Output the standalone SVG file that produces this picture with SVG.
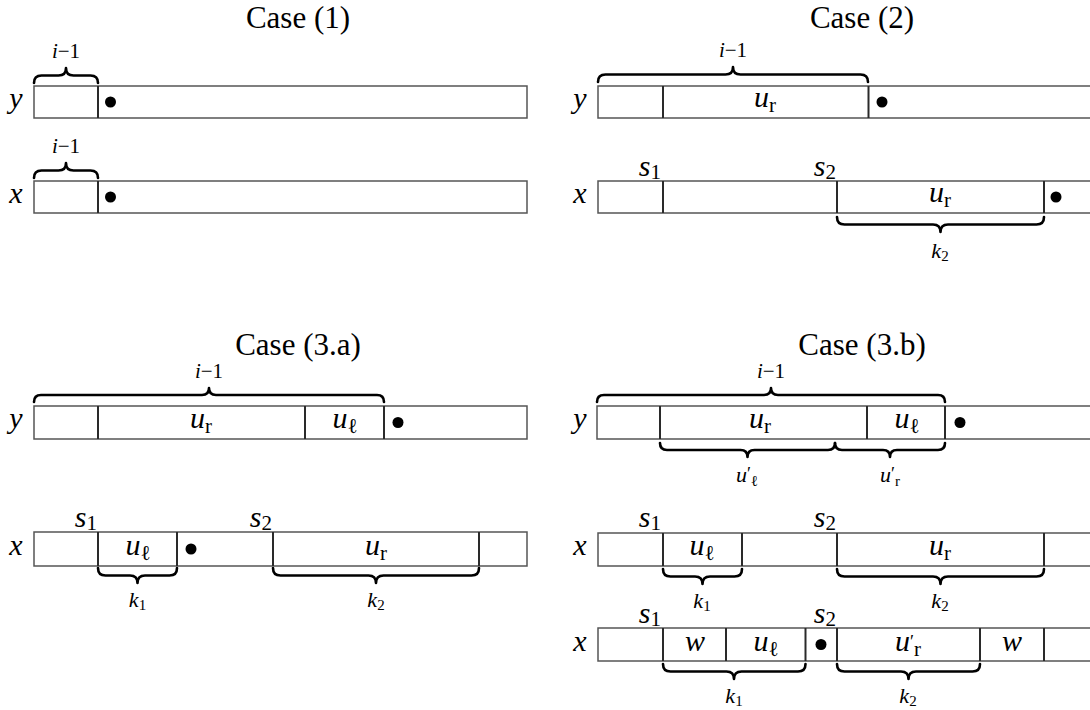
<svg xmlns="http://www.w3.org/2000/svg" width="1090" height="710" viewBox="0 0 1090 710" font-family="'Liberation Serif', 'Times New Roman', serif">
<style>
.box{fill:#fff;stroke:#555;stroke-width:1.5}
.dv{stroke:#2a2a2a;stroke-width:2}
.dot{fill:#000}
.br{fill:none;stroke:#000;stroke-width:2.6;stroke-linejoin:round;stroke-linecap:round}
text{font-family:'Liberation Serif','Times New Roman',serif;fill:#000}
.title{font-size:31px;text-anchor:middle}
.m{font-style:italic;font-size:30px;text-anchor:middle}
.s{font-style:italic;font-size:30px;text-anchor:end}
.sub{font-style:normal;font-size:21px}
.sm{font-style:italic;font-size:22px;text-anchor:middle}
.ss{font-style:normal;font-size:15px}
.pr{font-style:normal;font-size:18px}
.lab{font-style:italic;font-size:30px;text-anchor:middle}
.il{font-style:italic;font-size:21px;text-anchor:middle}
</style>

<!-- Case 1 -->
<g id="case1">
<text class="title" x="298" y="28">Case (1)</text>
<g id="c1-y">
<text class="lab" x="16" y="108">y</text>
<rect class="box" x="34" y="86" width="493" height="32"/>
<line class="dv" x1="98" y1="86" x2="98" y2="118"/>
<circle class="dot" cx="110.5" cy="102" r="5.5"/>
</g>
<g id="c1-x">
<text class="lab" x="16" y="203">x</text>
<rect class="box" x="34" y="181" width="493" height="32"/>
<line class="dv" x1="98" y1="181" x2="98" y2="213"/>
<circle class="dot" cx="110.5" cy="197" r="5.5"/>
</g>
<text class="il" x="66" y="58">i<tspan font-style="normal">−1</tspan></text>
<text class="il" x="66" y="153">i<tspan font-style="normal">−1</tspan></text>
</g>

<!-- Case 2 -->
<g id="case2">
<text class="title" x="862" y="28">Case (2)</text>
<g id="c2-y">
<text class="lab" x="580" y="108">y</text>
<rect class="box" x="598" y="86" width="500" height="32"/>
<line class="dv" x1="663" y1="86" x2="663" y2="118"/>
<line class="dv" x1="868.5" y1="86" x2="868.5" y2="118"/>
<text class="m" x="765" y="107">u<tspan class="sub" dy="5">r</tspan></text>
<circle class="dot" cx="882" cy="102" r="5.5"/>
</g>
<text class="il" x="733" y="57">i<tspan font-style="normal">−1</tspan></text>
<g id="c2-x">
<text class="lab" x="580" y="203">x</text>
<rect class="box" x="598" y="181" width="500" height="32"/>
<line class="dv" x1="663" y1="181" x2="663" y2="213"/>
<line class="dv" x1="837" y1="181" x2="837" y2="213"/>
<line class="dv" x1="1044" y1="181" x2="1044" y2="213"/>
<text class="s" x="661" y="176">s<tspan class="sub" dy="3">1</tspan></text>
<text class="s" x="836" y="176">s<tspan class="sub" dy="3">2</tspan></text>
<text class="m" x="940" y="202">u<tspan class="sub" dy="5">r</tspan></text>
<circle class="dot" cx="1056" cy="197" r="5.5"/>
</g>
<text class="sm" x="940" y="258">k<tspan class="ss" dy="3">2</tspan></text>
</g>

<!-- Case 3.a -->
<g id="case3a">
<text class="title" x="298" y="355">Case (3.a)</text>
<g id="c3a-y">
<text class="lab" x="16" y="428">y</text>
<rect class="box" x="34" y="406" width="493" height="33"/>
<line class="dv" x1="98" y1="406" x2="98" y2="439"/>
<line class="dv" x1="305" y1="406" x2="305" y2="439"/>
<line class="dv" x1="384" y1="406" x2="384" y2="439"/>
<text class="m" x="201" y="428">u<tspan class="sub" dy="5">r</tspan></text>
<text class="m" x="345" y="428">u<tspan class="sub" dy="5">ℓ</tspan></text>
<circle class="dot" cx="398" cy="422.5" r="5.5"/>
</g>
<text class="il" x="209" y="378">i<tspan font-style="normal">−1</tspan></text>
<g id="c3a-x">
<text class="lab" x="16" y="555">x</text>
<rect class="box" x="34" y="532" width="493" height="34"/>
<line class="dv" x1="98" y1="532" x2="98" y2="566"/>
<line class="dv" x1="177" y1="532" x2="177" y2="566"/>
<line class="dv" x1="273" y1="532" x2="273" y2="566"/>
<line class="dv" x1="479" y1="532" x2="479" y2="566"/>
<text class="s" x="97" y="527">s<tspan class="sub" dy="3">1</tspan></text>
<text class="s" x="272" y="527">s<tspan class="sub" dy="3">2</tspan></text>
<text class="m" x="138" y="555">u<tspan class="sub" dy="5">ℓ</tspan></text>
<circle class="dot" cx="191" cy="549" r="5.5"/>
<text class="m" x="376" y="555">u<tspan class="sub" dy="5">r</tspan></text>
</g>
<text class="sm" x="137.5" y="607">k<tspan class="ss" dy="3">1</tspan></text>
<text class="sm" x="376" y="607">k<tspan class="ss" dy="3">2</tspan></text>
</g>

<!-- Case 3.b -->
<g id="case3b">
<text class="title" x="862" y="355">Case (3.b)</text>
<g id="c3b-y">
<text class="lab" x="580" y="428">y</text>
<rect class="box" x="597" y="406" width="500" height="33"/>
<line class="dv" x1="660" y1="406" x2="660" y2="439"/>
<line class="dv" x1="867" y1="406" x2="867" y2="439"/>
<line class="dv" x1="945" y1="406" x2="945" y2="439"/>
<text class="m" x="760" y="428">u<tspan class="sub" dy="5">r</tspan></text>
<text class="m" x="907" y="428">u<tspan class="sub" dy="5">ℓ</tspan></text>
<circle class="dot" cx="960" cy="422.5" r="5.5"/>
</g>
<text class="il" x="771" y="378">i<tspan font-style="normal">−1</tspan></text>
<text class="sm" x="747" y="482">u<tspan class="pr" dy="-2">′</tspan><tspan class="ss" dy="6">ℓ</tspan></text>
<text class="sm" x="890" y="482">u<tspan class="pr" dy="-2">′</tspan><tspan class="ss" dy="6">r</tspan></text>
<g id="c3b-x1">
<text class="lab" x="580" y="555">x</text>
<rect class="box" x="598" y="533" width="500" height="33"/>
<line class="dv" x1="663" y1="533" x2="663" y2="566"/>
<line class="dv" x1="742" y1="533" x2="742" y2="566"/>
<line class="dv" x1="837" y1="533" x2="837" y2="566"/>
<line class="dv" x1="1044" y1="533" x2="1044" y2="566"/>
<text class="s" x="661" y="527">s<tspan class="sub" dy="3">1</tspan></text>
<text class="s" x="836" y="527">s<tspan class="sub" dy="3">2</tspan></text>
<text class="m" x="702" y="555">u<tspan class="sub" dy="5">ℓ</tspan></text>
<text class="m" x="940" y="555">u<tspan class="sub" dy="5">r</tspan></text>
</g>
<text class="sm" x="702" y="608">k<tspan class="ss" dy="3">1</tspan></text>
<text class="sm" x="940" y="608">k<tspan class="ss" dy="3">2</tspan></text>
<g id="c3b-x2">
<text class="lab" x="580" y="651">x</text>
<rect class="box" x="598" y="628" width="500" height="33"/>
<line class="dv" x1="663" y1="628" x2="663" y2="661"/>
<line class="dv" x1="726" y1="628" x2="726" y2="661"/>
<line class="dv" x1="805.5" y1="628" x2="805.5" y2="661"/>
<line class="dv" x1="837" y1="628" x2="837" y2="661"/>
<line class="dv" x1="980" y1="628" x2="980" y2="661"/>
<line class="dv" x1="1044" y1="628" x2="1044" y2="661"/>
<text class="s" x="661" y="623">s<tspan class="sub" dy="3">1</tspan></text>
<text class="s" x="836" y="623">s<tspan class="sub" dy="3">2</tspan></text>
<text class="m" x="695" y="651">w</text>
<text class="m" x="766" y="651">u<tspan class="sub" dy="5">ℓ</tspan></text>
<circle class="dot" cx="821" cy="644.5" r="5.5"/>
<text class="m" x="908" y="651">u<tspan class="pr" font-size="22px" dy="-3">′</tspan><tspan class="sub" dy="8">r</tspan></text>
<text class="m" x="1012" y="651">w</text>
</g>
<text class="sm" x="734" y="703">k<tspan class="ss" dy="3">1</tspan></text>
<text class="sm" x="908" y="703">k<tspan class="ss" dy="3">2</tspan></text>
</g>

<!-- Braces (connectors) -->
<g id="braces">
<path class="br" d="M34,83 Q34,75.5 41.5,75.5 L58.5,75.5 Q66,75.5 66,68 Q66,75.5 73.5,75.5 L90.5,75.5 Q98,75.5 98,83"/>
<path class="br" d="M34,178 Q34,170.5 41.5,170.5 L58.5,170.5 Q66,170.5 66,163 Q66,170.5 73.5,170.5 L90.5,170.5 Q98,170.5 98,178"/>
<path class="br" d="M598,82 Q598,74.5 605.5,74.5 L725.5,74.5 Q733,74.5 733,67 Q733,74.5 740.5,74.5 L860.5,74.5 Q868,74.5 868,82"/>
<path class="br" d="M837,217 Q837,224.5 844.5,224.5 L933,224.5 Q940.5,224.5 940.5,232 Q940.5,224.5 948,224.5 L1036.5,224.5 Q1044,224.5 1044,217"/>
<path class="br" d="M34,402 Q34,395 41,395 L202,395 Q209,395 209,388 Q209,395 216,395 L377,395 Q384,395 384,402"/>
<path class="br" d="M98,568 Q98,575.5 105.5,575.5 L130,575.5 Q137.5,575.5 137.5,583 Q137.5,575.5 145,575.5 L169.5,575.5 Q177,575.5 177,568"/>
<path class="br" d="M273,568 Q273,575.5 280.5,575.5 L368.5,575.5 Q376,575.5 376,583 Q376,575.5 383.5,575.5 L471.5,575.5 Q479,575.5 479,568"/>
<path class="br" d="M597,402 Q597,395 604,395 L764,395 Q771,395 771,388 Q771,395 778,395 L938,395 Q945,395 945,402"/>
<path class="br" d="M660,443 Q660,450 667,450 L740.5,450 Q747.5,450 747.5,457 Q747.5,450 754.5,450 L828,450 Q835,450 835,443"/>
<path class="br" d="M835,443 Q835,450 842,450 L883,450 Q890,450 890,457 Q890,450 897,450 L938,450 Q945,450 945,443"/>
<path class="br" d="M663,569 Q663,576.5 670.5,576.5 L695,576.5 Q702.5,576.5 702.5,584 Q702.5,576.5 710,576.5 L734.5,576.5 Q742,576.5 742,569"/>
<path class="br" d="M837,569 Q837,576.5 844.5,576.5 L933,576.5 Q940.5,576.5 940.5,584 Q940.5,576.5 948,576.5 L1036.5,576.5 Q1044,576.5 1044,569"/>
<path class="br" d="M663,664 Q663,671.5 670.5,671.5 L726.5,671.5 Q734,671.5 734,679 Q734,671.5 741.5,671.5 L798,671.5 Q805.5,671.5 805.5,664"/>
<path class="br" d="M837,664 Q837,671.5 844.5,671.5 L901,671.5 Q908.5,671.5 908.5,679 Q908.5,671.5 916,671.5 L972.5,671.5 Q980,671.5 980,664"/>
</g>
</svg>
